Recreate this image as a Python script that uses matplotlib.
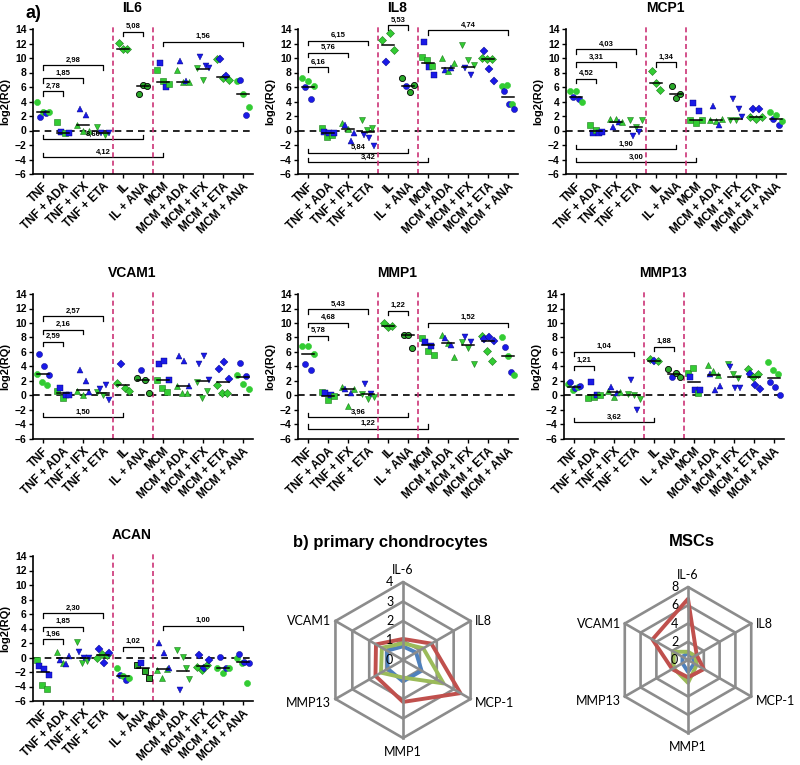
import numpy as np
import matplotlib.pyplot as plt
from matplotlib.patches import Polygon

plt.rcParams['font.family'] = ['Liberation Sans', 'DejaVu Sans']

# 组别
groups = ['TNF', 'TNF + ADA', 'TNF + IFX', 'TNF + ETA', 'IL', 'IL + ANA',
          'MCM', 'MCM + ADA', 'MCM + IFX', 'MCM + ETA', 'MCM + ANA']

# ---------------- IL6 ----------------
il6_green = [[4.0, 2.6, 2.6], [1.2, -0.3], [0.7, -0.1, 0.0], [0.5, -0.6],
             [12.1, 11.2, 11.2], [5.1, 6.3, 6.2], [8.4, 6.8, 6.4], [8.4, 6.7, 6.7],
             [8.6, 7.0], [9.8, 7.3, 7.0], [6.8, 5.1, 3.3]]
il6_blue = [[1.8, 2.4], [-0.2, -0.3], [2.9, 2.1], [-0.3, -0.3],
            [], [], [9.3, 6.0], [9.6, 6.8], [10.1, 8.9, 8.6], [9.9, 7.5], [7.0, 2.2]]
il6_median = [2.6, -0.3, 0.7, -0.3, 11.2, 6.1, 6.7, 6.7, 8.5, 7.4, 5.1]
il6_top = [(1, 2, '2,78'), (1, 3, '1,85'), (1, 4, '2,98'), (5, 6, '5,08'), (7, 11, '1,56')]
il6_top_h = [5.4, 7.2, 9.0, 13.6, 12.2]
il6_bot = [(1, 6, '8,60'), (1, 7, '4,12')]
il6_bot_h = [-1.2, -3.7]

# ---------------- IL8 ----------------
il8_green = [[7.2, 6.8, 6.2], [0.4, -0.9, -0.6], [1.1, 0.2], [1.4, 0.1, 0.3],
             [12.5, 13.5, 11.1], [7.2, 5.3, 6.3], [10.2, 9.7, 8.9], [10.0, 8.2, 9.3],
             [11.8, 9.7, 9.0], [10.0, 9.8, 9.9], [6.2, 6.3, 3.7]]
il8_blue = [[6.0, 4.4], [-0.2, -0.3, -0.4], [0.7, -1.4, -0.3], [-0.6, -1.1, -2.2],
            [9.5], [6.2], [12.2, 8.8, 7.6], [8.4, 8.6], [8.6, 7.6], [10.9, 8.5, 6.8],
            [5.4, 3.7, 2.9]]
il8_median = [6.0, -0.3, 0.2, -0.2, 11.8, 6.2, 9.3, 8.6, 8.7, 9.9, 4.6]
il8_top = [(1, 2, '6,16'), (1, 3, '5,76'), (1, 4, '6,15'), (5, 6, '5,53'), (7, 11, '4,74')]
il8_top_h = [8.7, 10.7, 12.4, 14.5, 13.8]
il8_bot = [(1, 6, '5,84'), (1, 7, '3,42')]
il8_bot_h = [-3.1, -4.4]

# ---------------- MCP1 ----------------
mcp1_green = [[5.5, 5.5, 3.9], [0.7, 0.1], [1.6, 1.6, 1.2], [1.4, 0.5, 1.4],
              [8.2, 6.5, 5.6], [6.2, 4.5, 5.1], [1.5, 1.1, 1.5], [1.5, 1.3, 1.6],
              [1.5, 1.4], [1.9, 1.6, 1.8], [2.6, 2.2, 1.3]]
mcp1_blue = [[4.6, 4.3], [-0.4, -0.3, -0.2], [0.5, 1.2], [-0.8, -0.2],
             [], [], [3.8, 2.7], [3.4, 0.7], [4.3, 2.9, 1.9], [3.0, 3.0], [1.6, 0.8]]
mcp1_median = [4.6, 0.0, 1.2, 0.5, 6.5, 5.1, 1.5, 1.5, 1.6, 1.8, 1.6]
mcp1_top = [(1, 2, '4,52'), (1, 3, '3,31'), (1, 4, '4,03'), (5, 6, '1,34')]
mcp1_top_h = [7.1, 9.4, 11.2, 9.4]
mcp1_bot = [(1, 6, '1,90'), (1, 7, '3,00')]
mcp1_bot_h = [-2.6, -4.4]

# ---------------- VCAM1 ----------------
vcam1_green = [[3.0, 1.9, 1.5], [0.6, -0.3], [0.6, 0.1], [0.5, 0.0],
               [1.7, 1.1, 0.6], [2.4, 2.1, 0.4], [2.1, 1.1, 0.5], [1.3, 0.4, 0.4],
               [1.9, -0.4, 0.6], [1.4, 0.3, 0.4], [2.8, 1.6, 0.9]]
vcam1_blue = [[5.7, 4.1, 2.8], [1.0, 0.1, 0.0], [3.5, 2.0, 0.5], [0.9, 1.4, -0.6],
              [4.3], [3.5], [4.4, 4.8, 2.1], [5.4, 4.7, 1.3], [4.4, 5.4, 2.2],
              [3.6, 4.6, 2.3], [4.5, 2.7]]
vcam1_median = [2.9, 0.3, 0.7, 0.4, 1.4, 2.2, 2.1, 1.3, 2.0, 1.8, 2.6]
vcam1_top = [(1, 2, '2,59'), (1, 3, '2,16'), (1, 4, '2,57')]
vcam1_top_h = [7.4, 9.1, 10.9]
vcam1_bot = [(1, 5, '1,50')]
vcam1_bot_h = [-3.0]

# ---------------- MMP1 ----------------
mmp1_green = [[6.8, 6.8, 5.7], [0.5, -0.6, -0.1], [1.2, -1.5, 0.9], [0.2, -0.5, -0.2],
              [10.0, 9.5, 9.6], [8.4, 8.4, 6.5], [7.9, 6.1, 5.6], [8.3, 7.3, 5.3],
              [7.4, 6.6, 4.4], [8.2, 6.1, 4.8], [8.0, 5.4, 2.8]]
mmp1_blue = [[4.4, 3.5], [0.4, 0.0], [0.9, 0.3], [1.6, 0.2],
             [], [], [7.4, 6.8], [7.9, 6.9], [8.0, 7.4], [7.8, 8.0, 7.5], [6.7, 3.2]]
mmp1_median = [5.7, -0.1, 0.9, 0.2, 9.6, 8.4, 6.9, 7.3, 6.9, 7.5, 5.4]
mmp1_top = [(1, 2, '5,78'), (1, 3, '4,68'), (1, 4, '5,43'), (5, 6, '1,22'), (7, 11, '1,52')]
mmp1_top_h = [8.2, 10.0, 11.9, 11.7, 10.0]
mmp1_bot = [(1, 6, '3,96'), (1, 7, '1,22')]
mmp1_bot_h = [-3.0, -4.6]

# ---------------- MMP13 ----------------
mmp13_green = [[1.6, 0.7, 1.2], [-0.3, -0.2, 0.0], [0.6, -0.2, 0.5], [0.2, 0.0, -0.5],
               [5.0, 4.8], [3.7, 3.1, 2.6], [3.1, 3.8, 0.4], [4.2, 3.4, 2.8],
               [4.4, 3.0, 2.4], [3.7, 2.6, 3.0], [4.6, 3.5, 2.9]]
mmp13_blue = [[1.8, 1.0, 1.3], [1.8, 0.0], [1.2, 0.3], [2.1, -2.0],
              [4.8], [2.6], [2.6, 0.8, 0.8], [3.0, 0.8, 1.3], [3.9, 1.1, 1.1],
              [2.9, 1.4, 0.9], [1.8, 1.2, 0.0]]
mmp13_median = [1.2, 0.0, 0.5, 0.1, 4.8, 2.9, 1.8, 2.8, 2.6, 2.5, 2.4]
mmp13_top = [(1, 2, '1,21'), (1, 4, '1,04'), (5, 6, '1,88')]
mmp13_top_h = [4.1, 6.0, 6.7]
mmp13_bot = [(1, 5, '3,62')]
mmp13_bot_h = [-3.7]

# ---------------- ACAN ----------------
acan_green = [[-0.4, -3.8, -4.3], [0.7, -0.8], [2.1, -0.7, -0.5], [0.0, 0.5, 0.4],
              [-1.4, -2.5, -2.8], [-1.0, -1.8, -2.8], [-1.7, -2.8, -1.6],
              [1.0, 0.1, -1.5, -2.9], [-1.3, -1.7, -1.0], [-1.5, -2.2, -1.4],
              [-0.1, -0.8, -3.5]]
acan_blue = [[-1.2, -1.6, -2.4], [-0.3, -0.9, 0.2], [0.8, -0.1, -0.1], [1.2, -0.7, 0.6],
             [-2.4, -3.1], [-0.8], [2.0, 0.6, -1.5], [-4.5], [0.3, -1.4, -0.3],
             [0.1, -1.5], [0.5, -0.6, -0.7]]
acan_median = [-2.0, -0.1, -0.1, 0.3, -2.5, -1.4, -1.6, -1.8, -1.2, -1.5, -0.6]
acan_top = [(1, 2, '1,96'), (1, 3, '1,85'), (1, 4, '2,30'), (5, 6, '1,02'), (7, 11, '1,00')]
acan_top_h = [2.5, 4.2, 6.1, 1.5, 4.4]
acan_bot = []
acan_bot_h = []

# ---------------- 雷达图 ----------------
radar_labels = ['IL-6', 'IL8', 'MCP-1', 'MMP1', 'MMP13', 'VCAM1']
chondro_blue = [0.7, 0.77, 1.1, 1.1, 0.9, 0.95]
chondro_green = [0.86, 1.2, 2.4, 0.9, 1.3, 1.25]
chondro_red = [1.08, 1.68, 3.4, 2.15, 1.63, 1.6]
msc_blue = [0.8, 0.6, 0.8, 1.3, 0.7, 0.7]
msc_green = [0.9, 0.9, 1.1, 2.5, 1.8, 1.8]
msc_red = [6.7, 1.1, 2.0, 1.9, 2.0, 4.5]

GREEN = '#33cc33'
DKGREEN = '#2aa82a'
BLUE = '#1a1ae6'
PINK = '#cc3377'

markers_std = ['o', 's', '^', 'v', 'D', 'o', 's', '^', 'v', 'D', 'o']
markers_acan = ['s', '^', 'v', 'D', 'o', 's', '^', 'v', 'D', 'o', 'o']

W, H = 800, 765
fig = plt.figure(figsize=(8, 7.65), dpi=100)


def px_axes(left, top, w, h):
    return fig.add_axes([left / W, 1 - (top + h) / H, w / W, h / H])


def draw_panel(ax, title, green, blue, med, top, top_h, bot, bot_h, markers):
    for i in range(len(groups)):
        x0 = i + 1
        g, b = green[i], blue[i]
        pts = []
        for k in range(max(len(g), len(b))):
            if k < len(g):
                pts.append((g[k], 'g'))
            if k < len(b):
                pts.append((b[k], 'b'))
        n = len(pts)
        spread = min(0.3, 0.1 * (n - 1))
        offs = np.linspace(-spread, spread, n) if n > 1 else [0.0]
        m = markers[i]
        ms = 5.0 if m in '^v' else (4.0 if m == 'D' else 4.4)
        for (v, c), o in zip(pts, offs):
            if c == 'g':
                fc = DKGREEN if i == 5 else GREEN
                ec = 'black' if i == 5 else ('#1b7a1b' if m != 'o' else GREEN)
                ew = 0.6 if i == 5 else 0.4
            else:
                fc, ec, ew = BLUE, '#000080', 0.3
            ax.plot(x0 + o, v, marker=m, ms=ms, mfc=fc, mec=ec, mew=ew,
                    ls='none', zorder=3, clip_on=False)
        ax.plot([x0 - 0.3, x0 + 0.3], [med[i], med[i]], color='black', lw=1.1, zorder=4)

    for (i, j, lab), h in zip(top, top_h):
        ax.plot([i, i, j, j], [h - 0.6, h, h, h - 0.6], color='black', lw=0.9, clip_on=False)
        ax.text((i + j) / 2, h + 0.25, lab, ha='center', va='bottom',
                fontsize=5.5, fontweight='bold')
    for (i, j, lab), h in zip(bot, bot_h):
        ax.plot([i, i, j, j], [h + 0.6, h, h, h + 0.6], color='black', lw=0.9, clip_on=False)
        ax.text((i + j) / 2, h + 0.25, lab, ha='center', va='bottom',
                fontsize=5.5, fontweight='bold')

    ax.axhline(0, color='black', lw=1.2, ls=(0, (4, 3)), zorder=2)
    for xv in (4.5, 6.5):
        ax.plot([xv, xv], [-6, 14.7], color=PINK, lw=1.2, ls=(0, (3, 2)),
                clip_on=False, zorder=2)

    ax.set_xlim(0.5, 11.5)
    ax.set_ylim(-6, 14)
    ax.set_yticks(range(-6, 15, 2))
    ax.set_xticks(range(1, 12))
    ax.set_xticklabels(groups, rotation=45, ha='right', va='top',
                       rotation_mode='anchor', fontsize=8.5, fontweight='bold')
    for lab in ax.get_yticklabels():
        lab.set_fontweight('bold')
        lab.set_fontsize(7.5)
    ax.tick_params(direction='out', length=3, width=1, pad=1.5)
    ax.spines['top'].set_visible(False)
    ax.spines['right'].set_visible(False)
    ax.spines['left'].set_linewidth(1.2)
    ax.spines['bottom'].set_linewidth(1.2)
    ax.set_ylabel('log2(RQ)', fontsize=8, fontweight='bold')
    ax.yaxis.set_label_coords(-0.105, 0.5)
    ax.text(0.45, 1.145, title, transform=ax.transAxes, ha='center', va='center',
            fontsize=10, fontweight='bold')


panels = [
    (33, 29, 'IL6', il6_green, il6_blue, il6_median, il6_top, il6_top_h, il6_bot, il6_bot_h, markers_std),
    (298, 29, 'IL8', il8_green, il8_blue, il8_median, il8_top, il8_top_h, il8_bot, il8_bot_h, markers_std),
    (566, 29, 'MCP1', mcp1_green, mcp1_blue, mcp1_median, mcp1_top, mcp1_top_h, mcp1_bot, mcp1_bot_h, markers_std),
    (33, 294, 'VCAM1', vcam1_green, vcam1_blue, vcam1_median, vcam1_top, vcam1_top_h, vcam1_bot, vcam1_bot_h, markers_std),
    (298, 294, 'MMP1', mmp1_green, mmp1_blue, mmp1_median, mmp1_top, mmp1_top_h, mmp1_bot, mmp1_bot_h, markers_std),
    (564, 294, 'MMP13', mmp13_green, mmp13_blue, mmp13_median, mmp13_top, mmp13_top_h, mmp13_bot, mmp13_bot_h, markers_std),
    (33, 556, 'ACAN', acan_green, acan_blue, acan_median, acan_top, acan_top_h, acan_bot, acan_bot_h, markers_acan),
]
for left, top, *rest in panels:
    ax = px_axes(left, top, 220, 145)
    draw_panel(ax, *rest)

fig.text(25 / W, 1 - 14 / H, 'a)', ha='left', va='center', fontsize=13, fontweight='bold')


# 雷达图
def draw_radar(cx, cy, r_px, levels, series, title, title_x, title_ha):
    rmax = levels[-1]
    upp = rmax / r_px
    half = 120
    ax = px_axes(cx - half, cy - half, 2 * half, 2 * half)
    ax.set_xlim(-half * upp, half * upp)
    ax.set_ylim(-half * upp, half * upp)
    ax.set_aspect('equal')
    ax.axis('off')
    ang = np.deg2rad(90 - 60 * np.arange(6))
    ca, sa = np.cos(ang), np.sin(ang)
    for lv in levels[1:]:
        ax.add_patch(Polygon(np.column_stack([lv * ca, lv * sa]), closed=True, fill=False,
                             edgecolor='#8c8c8c', lw=1.9, clip_on=False))
    for k in range(6):
        ax.plot([0, rmax * ca[k]], [0, rmax * sa[k]], color='#8c8c8c', lw=1.9, clip_on=False)
    for vals, col in series:
        v = np.array(vals)
        ax.add_patch(Polygon(np.column_stack([v * ca, v * sa]), closed=True, fill=False,
                             edgecolor=col, lw=2.8, joinstyle='round', clip_on=False))
    for lv in levels:
        ax.annotate(str(lv), xy=(0, lv), xytext=(-7, 0), textcoords='offset points',
                    ha='right', va='center', fontsize=9, family='Lato')
    offs = [((0, 4), 'center', 'bottom'), ((3, 0), 'left', 'center'),
            ((3, -3), 'left', 'center'), ((0, -6), 'center', 'top'),
            ((-3, -3), 'right', 'center'), ((-3, 0), 'right', 'center')]
    for k, lab in enumerate(radar_labels):
        (dx, dy), ha, va = offs[k]
        ax.annotate(lab, xy=(rmax * ca[k], rmax * sa[k]), xytext=(dx, dy),
                    textcoords='offset points', ha=ha, va=va, fontsize=9, family='Lato')
    fig.text(title_x / W, 1 - 542 / H, title, ha=title_ha, va='center',
             fontsize=12, fontweight='bold')


draw_radar(403, 660, 78, [0, 1, 2, 3, 4],
           [(chondro_blue, '#4f81bd'), (chondro_green, '#9bbb59'), (chondro_red, '#c0504d')],
           'b) primary chondrocytes', 293, 'left')
draw_radar(688, 660, 73, [0, 2, 4, 6, 8],
           [(msc_blue, '#4f81bd'), (msc_green, '#9bbb59'), (msc_red, '#c0504d')],
           'MSCs', 692, 'center')

fig.savefig('out.png', dpi=100)
